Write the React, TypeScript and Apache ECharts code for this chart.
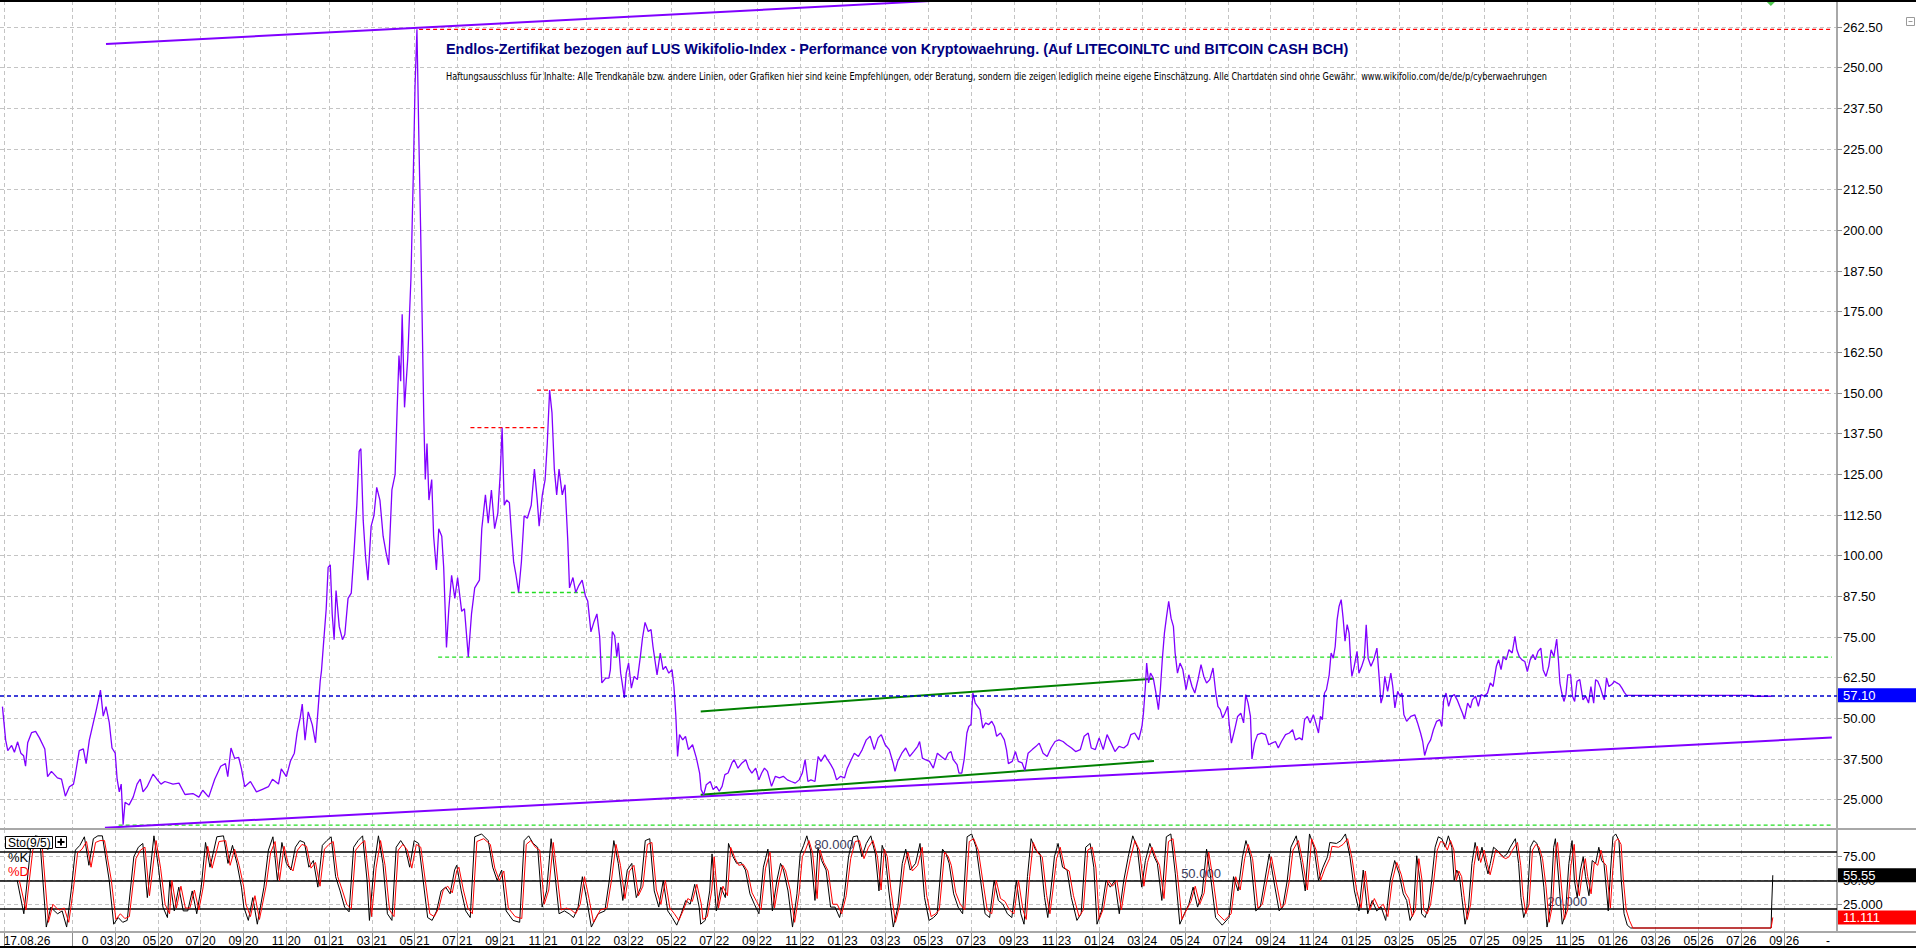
import React, { useEffect, useRef } from "react";
import * as echarts from "echarts";

const FONT = '"Liberation Sans", Arial, Helvetica, sans-serif';
const NARROW = '"Liberation Sans Narrow", "Arial Narrow", "DejaVu Sans Condensed", sans-serif';

// x values are months since January 2020 (0 = 01/20)
const X_MIN = -3.374;
const X_MAX = 82.47;

const TITLE = "Endlos-Zertifikat bezogen auf LUS Wikifolio-Index - Performance von Kryptowaehrung. (Auf LITECOINLTC und BITCOIN CASH BCH)";
const SUBTITLE = "Haftungsausschluss für Inhalte: Alle Trendkanäle bzw. andere Linien, oder Grafiken hier sind keine Empfehlungen, oder Beratung, sondern die zeigen lediglich meine eigene Einschätzung. Alle Chartdaten sind ohne Gewähr.  www.wikifolio.com/de/de/p/cyberwaehrungen";

// vertical grid lines (month positions)
const X_GRID = [-3.19, 0, 2, 4, 6, 8, 10, 12, 14, 16, 18, 20, 22, 24, 26, 28, 30, 32, 34, 36, 38, 40, 42, 44, 46, 48, 50, 52, 54, 56, 58, 60, 62, 64, 66, 68, 70, 72, 74, 76, 78, 80];
// x tick labels
const X_LABEL_POS = [-2.11, 0.6, 2, 4, 6, 8, 10, 12, 14, 16, 18, 20, 22, 24, 26, 28, 30, 32, 34, 36, 38, 40, 42, 44, 46, 48, 50, 52, 54, 56, 58, 60, 62, 64, 66, 68, 70, 72, 74, 76, 78, 80, 82.05];
const X_LABELS = ["17.08.26", "0", "03 20", "05 20", "07 20", "09 20", "11 20", "01 21", "03 21", "05 21", "07 21", "09 21", "11 21", "01 22", "03 22", "05 22", "07 22", "09 22", "11 22", "01 23", "03 23", "05 23", "07 23", "09 23", "11 23", "01 24", "03 24", "05 24", "07 24", "09 24", "11 24", "01 25", "03 25", "05 25", "07 25", "09 25", "11 25", "01 26", "03 26", "05 26", "07 26", "09 26", "-"];

// price axis ticks
const Y_TICKS = [25, 37.5, 50, 62.5, 75, 87.5, 100, 112.5, 125, 137.5, 150, 162.5, 175, 187.5, 200, 212.5, 225, 237.5, 250, 262.5];
const Y_LABELS = ["25.000", "37.500", "50.00", "62.50", "75.00", "87.50", "100.00", "112.50", "125.00", "137.50", "150.00", "162.50", "175.00", "187.50", "200.00", "212.50", "225.00", "237.50", "250.00", "262.50"];
// stochastic axis ticks
const S_TICKS = [25, 50, 75];
const S_LABELS = ["25.000", "50.00", "75.00"];

const LAST_PRICE = 57.1;
const LAST_K = 55.55;
const LAST_D = 11.111;
const STO_LEVELS = [80, 50, 20];
const STO_LEVEL_TEXT: [number, number, string][] = [[35.6, 80, "80.000"], [52.75, 50, "50.000"], [69.87, 20, "20.000"]];

// price series [month, value]
const PRICE: [number, number][] = [
  [-3.26,53.6],[-3.11,43.3],[-3.01,40.1],[-2.83,41.7],[-2.70,39.6],[-2.55,42.8],[-2.40,39.3],[-2.27,38.5],[-2.18,35.3],[-2.08,42.5],[-1.90,45.6],[-1.71,46.0],[-1.53,44.0],[-1.28,40.6],[-1.15,32.1],[-0.97,33.7],[-0.69,31.7],[-0.50,31.3],[-0.32,26.1],[-0.13,29.0],[0.06,29.8],[0.15,32.9],[0.33,40.1],[0.52,40.6],[0.65,36.1],[0.80,43.3],[0.99,48.8],[1.13,52.8],[1.32,58.7],[1.45,50.7],[1.58,53.6],[1.73,48.8],[1.86,40.9],[2.01,39.3],[2.10,31.3],[2.20,27.4],[2.29,29.8],[2.38,17.3],[2.47,24.2],[2.66,23.4],[2.85,25.8],[3.03,29.8],[3.18,31.3],[3.31,27.4],[3.50,29.0],[3.78,32.9],[3.96,31.3],[4.15,29.8],[4.33,30.6],[4.71,29.8],[4.99,30.1],[5.27,26.6],[5.64,26.9],[5.92,25.8],[6.10,27.9],[6.38,25.8],[6.66,31.3],[6.94,35.3],[7.16,36.1],[7.27,32.1],[7.42,40.9],[7.59,37.7],[7.78,38.0],[7.91,34.5],[8.06,29.0],[8.33,30.6],[8.61,27.4],[8.89,28.2],[9.17,29.0],[9.36,31.3],[9.64,29.8],[9.77,34.5],[10.01,32.1],[10.20,36.9],[10.38,39.3],[10.51,45.6],[10.66,50.4],[10.75,54.4],[10.88,43.3],[11.03,52.0],[11.22,48.0],[11.37,42.5],[11.50,53.6],[11.59,61.5],[11.65,64.7],[11.74,72.6],[11.87,83.7],[11.96,96.4],[12.06,97.2],[12.15,82.1],[12.24,74.2],[12.33,89.3],[12.48,78.2],[12.63,74.2],[12.74,75.8],[12.89,86.9],[13.04,88.5],[13.17,101.2],[13.30,115.5],[13.41,132.1],[13.49,132.9],[13.60,110.7],[13.71,99.6],[13.82,92.5],[13.97,109.1],[14.10,112.3],[14.23,121.0],[14.38,117.1],[14.53,106.0],[14.66,101.2],[14.79,97.2],[14.94,120.2],[15.09,125.0],[15.18,144.0],[15.27,161.5],[15.35,153.6],[15.42,174.2],[15.53,145.6],[15.68,160.7],[15.83,185.3],[15.94,217.1],[16.02,244.0],[16.11,261.8],[16.20,228.2],[16.28,201.2],[16.35,174.2],[16.43,142.5],[16.50,123.4],[16.58,134.5],[16.67,117.1],[16.80,123.4],[16.89,106.0],[17.02,95.6],[17.13,108.3],[17.27,106.0],[17.36,96.4],[17.49,71.8],[17.60,83.7],[17.73,94.0],[17.88,86.9],[18.01,93.3],[18.20,82.9],[18.33,83.7],[18.51,68.9],[18.66,82.1],[18.81,90.1],[19.03,92.5],[19.14,108.3],[19.31,118.7],[19.44,110.0],[19.59,120.2],[19.74,108.3],[19.89,113.1],[20.00,125.0],[20.09,139.3],[20.19,115.5],[20.30,117.1],[20.43,116.3],[20.52,107.5],[20.63,98.0],[20.74,94.0],[20.86,88.7],[20.99,98.0],[21.12,112.3],[21.27,111.5],[21.45,115.5],[21.60,126.6],[21.73,117.1],[21.82,109.1],[21.97,118.7],[22.10,123.4],[22.20,134.5],[22.31,150.9],[22.42,144.0],[22.53,126.6],[22.64,118.7],[22.75,126.6],[22.90,118.7],[23.03,121.8],[23.16,104.4],[23.24,90.1],[23.40,93.3],[23.53,88.7],[23.68,90.9],[23.83,92.5],[23.98,87.7],[24.09,86.1],[24.24,76.6],[24.39,79.8],[24.52,82.1],[24.65,75.0],
  [24.75,60.9],[24.93,62.4],[25.08,62.4],[25.15,65.0],[25.24,76.7],[25.35,75.4],[25.45,69.0],[25.52,73.2],[25.63,63.9],[25.70,60.9],[25.80,56.3],[25.89,63.9],[26.0,67.0],[26.13,59.3],[26.26,62.9],[26.41,61.9],[26.55,69.0],[26.65,74.7],[26.77,79.5],[26.92,76.7],[27.05,77.3],[27.14,72.1],[27.33,63.4],[27.48,70.1],[27.61,65.0],[27.73,66.0],[27.88,63.9],[28.03,65.0],[28.12,59.8],[28.21,50.6],[28.29,38.3],[28.38,45.0],[28.53,43.4],[28.66,44.5],[28.80,40.4],[28.99,41.9],[29.17,37.8],[29.32,33.2],[29.39,28.1],[29.51,26.5],[29.63,29.6],[29.82,30.6],[29.95,28.1],[30.10,29.1],[30.24,27.6],[30.37,29.1],[30.50,32.7],[30.65,33.2],[30.83,36.3],[30.93,37.3],[31.11,34.7],[31.30,36.3],[31.48,37.3],[31.61,34.7],[31.76,33.2],[31.94,34.7],[32.09,31.1],[32.22,33.2],[32.35,34.7],[32.49,33.7],[32.68,29.1],[32.86,32.2],[33.05,31.7],[33.23,32.2],[33.42,31.1],[33.60,30.6],[33.79,30.1],[33.97,31.1],[34.12,33.2],[34.25,37.3],[34.38,30.6],[34.52,31.1],[34.71,30.6],[34.86,38.3],[34.99,36.8],[35.17,38.8],[35.30,37.3],[35.45,35.8],[35.58,34.2],[35.72,31.1],[35.91,32.2],[36.09,31.7],[36.22,34.7],[36.37,36.8],[36.55,39.3],[36.74,38.3],[36.92,40.4],[37.11,43.4],[37.29,44.5],[37.48,40.4],[37.66,44.0],[37.81,45.0],[37.99,41.9],[38.18,40.4],[38.36,36.3],[38.45,33.7],[38.58,36.8],[38.77,39.3],[38.95,40.9],[39.14,38.3],[39.32,39.8],[39.51,41.4],[39.60,42.9],[39.73,37.8],[39.87,37.3],[40.06,36.8],[40.24,34.7],[40.43,39.3],[40.61,38.3],[40.80,37.3],[40.94,39.3],[41.07,39.8],[41.17,37.3],[41.35,35.8],[41.44,33.2],[41.57,33.2],[41.68,37.3],[41.81,45.5],[41.90,47.5],[42.0,48.1],[42.09,57.8],[42.20,54.7],[42.31,53.7],[42.42,52.7],[42.55,47.0],[42.68,48.6],[42.83,48.1],[42.97,49.1],[43.10,47.5],[43.20,44.5],[43.38,45.5],[43.56,43.4],[43.66,40.4],[43.75,36.1],[43.93,36.8],[44.08,39.8],[44.21,36.8],[44.39,36.3],[44.52,34.0],[44.67,39.3],[44.86,40.4],[45.04,41.4],[45.19,42.4],[45.37,39.3],[45.56,38.3],[45.74,40.9],[45.93,42.9],[46.11,43.4],[46.30,42.9],[46.48,41.9],[46.70,40.9],[46.89,39.8],[47.11,40.4],[47.29,44.5],[47.48,45.5],[47.62,40.9],[47.81,40.4],[47.99,44.0],[48.18,40.4],[48.36,45.0],[48.55,42.4],[48.73,39.8],[48.92,41.4],[49.14,40.9],[49.32,41.9],[49.47,45.0],[49.65,45.5],[49.84,43.4],[49.99,47.5],[50.06,51.6],[50.15,59.8],[50.21,67.0],[50.30,60.9],[50.39,63.9],[50.52,62.4],[50.63,58.3],[50.76,52.7],[50.85,58.8],[50.94,68.0],[51.04,76.2],[51.13,80.8],[51.24,86.0],[51.35,80.8],[51.46,78.3],[51.54,70.1],[51.65,63.9],[51.77,67.0],[51.90,65.0],[52.05,58.8],[52.18,63.4],[52.33,59.8],[52.46,57.8],[52.61,61.9],[52.75,66.5],[52.88,62.9],[53.01,60.9],[53.16,61.9],[53.31,65.5],
  [53.44,57.8],[53.54,53.7],[53.65,52.7],[53.76,50.1],[53.87,51.6],[54.0,53.7],[54.06,48.6],[54.17,42.4],[54.32,46.5],[54.46,50.6],[54.61,51.6],[54.74,48.6],[54.84,57.3],[54.95,54.7],[55.06,50.6],[55.13,37.5],[55.25,42.4],[55.39,45.0],[55.58,45.5],[55.77,45.0],[55.91,41.9],[56.06,42.4],[56.23,42.9],[56.36,40.9],[56.51,42.9],[56.70,45.0],[56.88,45.5],[57.03,46.5],[57.16,43.4],[57.35,44.0],[57.48,43.4],[57.59,49.6],[57.72,50.6],[57.85,48.6],[58.0,51.1],[58.11,48.6],[58.24,45.5],[58.33,50.6],[58.42,49.6],[58.52,57.8],[58.61,58.8],[58.74,63.4],[58.83,70.1],[58.93,68.5],[59.02,72.1],[59.11,80.3],[59.20,84.4],[59.30,86.5],[59.39,80.8],[59.48,73.7],[59.58,78.8],[59.67,76.2],[59.74,68.0],[59.80,62.9],[59.91,66.0],[60.04,70.6],[60.13,63.9],[60.26,66.0],[60.38,68.5],[60.47,78.8],[60.56,68.5],[60.69,66.0],[60.82,68.0],[60.97,71.6],[61.06,63.9],[61.16,54.7],[61.25,56.8],[61.34,62.9],[61.47,58.3],[61.62,63.9],[61.71,59.8],[61.81,53.2],[61.94,58.3],[62.05,56.8],[62.14,57.8],[62.23,51.1],[62.36,49.1],[62.55,50.6],[62.74,51.1],[62.87,48.6],[63.01,45.5],[63.11,42.9],[63.20,38.6],[63.35,41.9],[63.48,43.4],[63.61,46.5],[63.76,49.1],[63.91,49.6],[64.0,47.5],[64.09,55.7],[64.20,57.8],[64.32,53.7],[64.46,56.8],[64.59,57.3],[64.72,55.7],[64.87,53.2],[64.97,51.6],[65.06,49.8],[65.21,54.7],[65.34,53.2],[65.43,55.7],[65.58,56.8],[65.71,53.7],[65.84,57.3],[65.99,56.8],[66.14,57.8],[66.27,60.9],[66.40,59.8],[66.55,66.0],[66.66,68.0],[66.77,65.0],[66.88,69.0],[67.01,68.0],[67.14,71.1],[67.29,70.1],[67.42,75.2],[67.51,71.1],[67.62,69.0],[67.75,68.0],[67.88,67.5],[68.0,64.4],[68.13,68.0],[68.26,69.6],[68.37,68.0],[68.50,70.6],[68.63,71.6],[68.74,64.9],[68.87,62.9],[69.0,66.0],[69.11,71.1],[69.24,69.0],[69.37,74.4],[69.45,68.0],[69.52,60.9],[69.61,57.8],[69.71,55.2],[69.80,57.3],[69.89,63.4],[70.02,63.4],[70.11,56.8],[70.21,55.2],[70.32,61.4],[70.45,61.9],[70.60,55.7],[70.73,56.8],[70.86,54.7],[70.97,59.8],[71.10,54.7],[71.19,61.9],[71.29,61.4],[71.42,59.3],[71.53,56.8],[71.60,55.7],[71.70,62.4],[71.81,59.8],[71.94,60.4],[72.07,61.4],[72.18,60.9],[72.31,60.4],[72.42,59.3],[72.53,58.0],[72.64,57.1],[78.53,57.1],[78.55,56.8],[79.40,56.8]
];

// trend lines [month, value]
const UPPER_CHANNEL: [number, number][] = [[1.58, 257.3], [41.0, 270.8]];
const LOWER_CHANNEL: [number, number][] = [[1.53, 16.4], [82.23, 44.14]];
const GREEN_UPPER: [number, number][] = [[29.37, 52.15], [50.5, 62.2]];
const GREEN_LOWER: [number, number][] = [[29.37, 26.5], [50.55, 36.9]];
// horizontal dashed marks [fromMonth, toMonth, value]
const RED_LEVELS: [number, number, number][] = [[16.21, 82.23, 261.8], [21.72, 82.23, 150.9], [18.61, 22.13, 139.4]];
const GREEN_LEVELS: [number, number, number][] = [[20.5, 23.97, 88.7], [17.1, 82.23, 68.85], [2.17, 82.23, 17.2]];
const SIGNAL_MARK: [number, number][] = [[79.38, 270.5]];

// Stochastic %K [month, value]
const STO_K: [number, number][] = [
  [-2.57,50],[-2.26,15],[-1.94,85],[-1.73,97],[-1.52,96],[-1.21,1],[-1.0,22],[-0.79,17],[-0.68,15],[-0.47,18],[-0.26,1],[-0.05,39],[0.15,82],[0.36,87],[0.57,96],[0.78,66],[0.99,94],[1.2,97],[1.41,97],[1.73,50],[1.94,4],[2.15,11],[2.36,6],[2.57,8],[2.88,75],[3.09,85],[3.3,89],[3.51,32],[3.82,97],[4.03,64],[4.24,22],[4.45,11],[4.56,50],[4.77,18],[4.98,43],[5.19,18],[5.4,18],[5.61,39],[5.82,15],[6.03,43],[6.23,90],[6.44,64],[6.76,96],[7.07,97],[7.28,68],[7.49,87],[7.7,68],[7.91,43],[8.02,22],[8.23,8],[8.44,32],[8.65,4],[8.96,43],[9.17,82],[9.38,96],[9.59,50],[9.8,90],[10.01,68],[10.22,61],[10.43,85],[10.64,92],[10.85,90],[11.06,64],[11.27,71],[11.48,43],[11.69,87],[11.9,92],[12.1,96],[12.31,54],[12.52,39],[12.73,22],[12.94,17],[13.15,85],[13.36,92],[13.57,97],[13.78,50],[13.89,8],[14.1,64],[14.31,97],[14.52,68],[14.73,15],[14.94,8],[15.14,85],[15.35,92],[15.56,85],[15.77,64],[15.98,92],[16.19,89],[16.4,50],[16.61,11],[16.82,8],[17.03,18],[17.24,39],[17.45,43],[17.66,36],[17.87,61],[17.97,66],[18.18,39],[18.39,18],[18.6,11],[18.81,96],[19.13,99],[19.44,92],[19.65,64],[19.86,50],[20.07,61],[20.28,18],[20.6,8],[20.91,6],[21.12,92],[21.33,97],[21.54,89],[21.75,85],[21.96,22],[22.17,39],[22.38,94],[22.59,50],[22.75,15],[23.0,18],[23.22,15],[23.43,11],[23.64,22],[23.84,54],[24.05,29],[24.26,1],[24.58,15],[24.89,18],[25.1,50],[25.31,92],[25.52,68],[25.73,29],[25.94,61],[26.15,68],[26.36,32],[26.57,43],[26.78,92],[26.99,94],[27.2,39],[27.41,22],[27.62,50],[27.83,18],[28.04,11],[28.25,3],[28.46,15],[28.67,29],[28.88,25],[29.09,46],[29.3,22],
  [29.37,4],[29.58,8],[29.79,39],[29.9,78],[30.1,18],[30.31,43],[30.52,32],[30.67,89],[30.88,75],[31.05,68],[31.26,69],[31.46,61],[31.67,36],[31.88,25],[32.09,15],[32.3,64],[32.51,83],[32.72,18],[32.93,50],[33.1,68],[33.24,61],[33.45,39],[33.66,1],[33.87,36],[34.02,78],[34.18,87],[34.33,97],[34.5,82],[34.71,29],[34.85,85],[35.02,71],[35.23,61],[35.44,22],[35.65,22],[35.86,11],[36.07,32],[36.28,75],[36.49,96],[36.69,97],[36.9,75],[37.11,89],[37.32,97],[37.53,78],[37.7,39],[37.85,87],[37.99,78],[38.16,39],[38.37,1],[38.58,22],[38.79,68],[38.95,83],[39.16,61],[39.41,68],[39.62,89],[39.83,32],[40.04,8],[40.25,11],[40.42,15],[40.67,83],[40.84,78],[40.98,68],[41.19,36],[41.4,22],[41.61,15],[41.82,96],[42.03,99],[42.24,85],[42.45,50],[42.66,15],[42.87,11],[43.08,50],[43.28,29],[43.49,25],[43.7,15],[43.91,11],[44.12,50],[44.33,15],[44.48,4],[44.64,54],[44.81,94],[45.02,82],[45.23,78],[45.44,32],[45.59,11],[45.73,39],[45.9,75],[46.07,89],[46.28,64],[46.49,61],[46.69,32],[46.95,8],[47.15,15],[47.36,85],[47.57,89],[47.74,64],[47.89,4],[48.1,18],[48.31,50],[48.51,43],[48.72,50],[48.93,15],[49.14,50],[49.35,75],[49.56,97],[49.77,85],[49.98,43],[50.15,71],[50.36,89],[50.56,75],[50.71,68],[50.92,29],[51.13,96],[51.34,99],[51.55,57],[51.76,4],[51.97,15],[52.18,25],[52.38,43],[52.59,22],[52.8,36],[53.01,83],[53.22,50],[53.43,11],[53.74,3],[54.06,11],[54.27,54],[54.48,39],[54.69,75],[54.85,92],[55.06,75],[55.31,18],[55.52,22],[55.73,50],[55.94,78],[56.15,50],[56.4,18],[56.57,22],[56.78,50],[56.95,85],[57.2,97],[57.41,71],[57.62,39],[57.82,99],[58.03,85],[58.24,50],[58.45,64],[58.66,75],[58.77,90],[59.08,89],[59.29,92],[59.5,99],[59.71,75],[59.92,39],[60.13,18],[60.33,61],[60.54,15],[60.75,29],[60.96,18],[61.17,22],[61.38,8],[61.59,50],[61.8,71],[62.01,57],
  [62.2,36],[62.36,29],[62.52,8],[62.67,15],[62.83,76],[62.98,50],[63.06,15],[63.22,11],[63.38,22],[63.53,50],[63.69,85],[63.84,96],[64.0,94],[64.16,85],[64.31,97],[64.47,85],[64.58,50],[64.7,61],[64.83,54],[64.94,32],[65.09,4],[65.25,22],[65.41,68],[65.56,90],[65.72,71],[65.88,85],[66.03,69],[66.16,57],[66.27,68],[66.42,85],[66.58,82],[66.73,78],[66.89,75],[67.05,78],[67.2,85],[67.44,94],[67.59,68],[67.7,32],[67.83,11],[67.98,22],[68.14,85],[68.3,92],[68.45,89],[68.61,75],[68.77,43],[68.92,1],[69.08,22],[69.23,85],[69.31,94],[69.47,50],[69.63,4],[69.78,15],[69.94,68],[70.09,92],[70.2,50],[70.33,32],[70.48,61],[70.61,75],[70.72,54],[70.88,34],[71.03,71],[71.19,68],[71.34,85],[71.47,71],[71.58,68],[71.7,39],[71.78,18],[71.89,61],[72.0,96],[72.13,99],[72.28,92],[72.39,50],[72.52,15],[72.67,3],[72.83,0],[79.39,0],[79.42,25],[79.47,55.55]
];

// Stochastic %D [month, value]
const STO_D: [number, number][] = [
  [-2.47,50],[-2.16,19],[-1.84,82],[-1.63,92],[-1.42,91],[-1.11,6],[-0.9,25],[-0.69,20],[-0.58,19],[-0.37,21],[-0.16,6],[0.05,40],[0.25,79],[0.46,83],[0.67,91],[0.88,64],[1.09,90],[1.3,92],[1.51,92],[1.83,50],[2.04,9],[2.25,15],[2.46,10],[2.67,12],[2.98,73],[3.19,82],[3.4,85],[3.61,34],[3.92,92],[4.13,63],[4.34,25],[4.55,15],[4.66,50],[4.87,21],[5.08,44],[5.29,21],[5.5,21],[5.71,40],[5.92,19],[6.13,44],[6.33,86],[6.54,63],[6.86,91],[7.17,92],[7.38,66],[7.59,83],[7.8,66],[8.01,44],[8.12,25],[8.33,12],[8.54,34],[8.75,9],[9.06,44],[9.27,79],[9.48,91],[9.69,50],[9.9,86],[10.11,66],[10.32,60],[10.53,82],[10.74,88],[10.95,86],[11.16,63],[11.37,69],[11.58,44],[11.79,83],[12.0,88],[12.2,91],[12.41,54],[12.62,40],[12.83,25],[13.04,20],[13.25,82],[13.46,88],[13.67,92],[13.88,50],[13.99,12],[14.2,63],[14.41,92],[14.62,66],[14.83,19],[15.04,12],[15.24,82],[15.45,88],[15.66,82],[15.87,63],[16.08,88],[16.29,85],[16.5,50],[16.71,15],[16.92,12],[17.13,21],[17.34,40],[17.55,44],[17.76,37],[17.97,60],[18.07,64],[18.28,40],[18.49,21],[18.7,15],[18.91,91],[19.23,94],[19.54,88],[19.75,63],[19.96,50],[20.17,60],[20.38,21],[20.7,12],[21.01,10],[21.22,88],[21.43,92],[21.64,85],[21.85,82],[22.06,25],[22.27,40],[22.48,90],[22.69,50],[22.85,19],[23.1,21],[23.32,19],[23.53,15],[23.74,25],[23.94,54],[24.15,31],[24.36,6],[24.68,19],[24.99,21],[25.2,50],[25.41,88],[25.62,66],[25.83,31],[26.04,60],[26.25,66],[26.46,34],[26.67,44],[26.88,88],[27.09,90],[27.3,40],[27.51,25],[27.72,50],[27.93,21],[28.14,15],[28.35,8],[28.56,19],[28.77,31],[28.98,28],[29.19,46],[29.4,25],
  [29.47,9],[29.68,12],[29.89,40],[30.0,75],[30.2,21],[30.41,44],[30.62,34],[30.77,85],[30.98,73],[31.15,66],[31.36,67],[31.56,60],[31.77,37],[31.98,28],[32.19,19],[32.4,63],[32.61,80],[32.82,21],[33.03,50],[33.2,66],[33.34,60],[33.55,40],[33.76,6],[33.97,37],[34.12,75],[34.28,83],[34.43,92],[34.6,79],[34.81,31],[34.95,82],[35.12,69],[35.33,60],[35.54,25],[35.75,25],[35.96,15],[36.17,34],[36.38,73],[36.59,91],[36.79,92],[37.0,73],[37.21,85],[37.42,92],[37.63,75],[37.8,40],[37.95,83],[38.09,75],[38.26,40],[38.47,6],[38.68,25],[38.89,66],[39.05,80],[39.26,60],[39.51,66],[39.72,85],[39.93,34],[40.14,12],[40.35,15],[40.52,19],[40.77,80],[40.94,75],[41.08,66],[41.29,37],[41.5,25],[41.71,19],[41.92,91],[42.13,94],[42.34,82],[42.55,50],[42.76,19],[42.97,15],[43.18,50],[43.38,31],[43.59,28],[43.8,19],[44.01,15],[44.22,50],[44.43,19],[44.58,9],[44.74,54],[44.91,90],[45.12,79],[45.33,75],[45.54,34],[45.69,15],[45.83,40],[46.0,73],[46.17,85],[46.38,63],[46.59,60],[46.79,34],[47.05,12],[47.25,19],[47.46,82],[47.67,85],[47.84,63],[47.99,9],[48.2,21],[48.41,50],[48.61,44],[48.82,50],[49.03,19],[49.24,50],[49.45,73],[49.66,92],[49.87,82],[50.08,44],[50.25,69],[50.46,85],[50.66,73],[50.81,66],[51.02,31],[51.23,91],[51.44,94],[51.65,56],[51.86,9],[52.07,19],[52.28,28],[52.48,44],[52.69,25],[52.9,37],[53.11,80],[53.32,50],[53.53,15],[53.84,8],[54.16,15],[54.37,54],[54.58,40],[54.79,73],[54.95,88],[55.16,73],[55.41,21],[55.62,25],[55.83,50],[56.04,75],[56.25,50],[56.5,21],[56.67,25],[56.88,50],[57.05,82],[57.3,92],[57.51,69],[57.72,40],[57.92,94],[58.13,82],[58.34,50],[58.55,63],[58.76,73],[58.87,86],[59.18,85],[59.39,88],[59.6,94],[59.81,73],[60.02,40],[60.23,21],[60.43,60],[60.64,19],[60.85,31],[61.06,21],[61.27,25],[61.48,12],[61.69,50],[61.9,69],[62.11,56],
  [62.3,37],[62.46,31],[62.62,12],[62.77,19],[62.93,73],[63.08,50],[63.16,19],[63.32,15],[63.48,25],[63.63,50],[63.79,82],[63.94,91],[64.1,90],[64.26,82],[64.41,92],[64.57,82],[64.68,50],[64.8,60],[64.93,54],[65.04,34],[65.19,9],[65.35,25],[65.51,66],[65.66,86],[65.82,69],[65.98,82],[66.13,67],[66.26,56],[66.37,66],[66.52,82],[66.68,79],[66.83,75],[66.99,73],[67.15,75],[67.3,82],[67.54,90],[67.69,66],[67.8,34],[67.93,15],[68.08,25],[68.24,82],[68.4,88],[68.55,85],[68.71,73],[68.87,44],[69.02,6],[69.18,25],[69.33,82],[69.41,90],[69.57,50],[69.73,9],[69.88,19],[70.04,66],[70.19,88],[70.3,50],[70.43,34],[70.58,60],[70.71,73],[70.82,54],[70.98,36],[71.13,69],[71.29,66],[71.44,82],[71.57,69],[71.68,66],[71.8,40],[71.88,21],[71.99,60],[72.1,91],[72.23,94],[72.38,88],[72.49,50],[72.62,19],[72.77,8],[72.93,0],[79.39,0],[79.47,11.111]
];

function lookup(pos: number[], labels: string[]) {
  return (v: number) => {
    for (let i = 0; i < pos.length; i++) {
      if (Math.abs(pos[i] - v) < 0.001) return labels[i];
    }
    return "";
  };
}

const gridDash = { color: "#c4c4c4", type: [4, 3] as number[], width: 1 };
const INVISIBLE = "rgba(0,0,0,0)";

function boxLabel(text: string, bg: string, fg: string) {
  return {
    show: true,
    position: "end",
    formatter: text,
    distance: 1,
    backgroundColor: bg,
    color: fg,
    fontSize: 13,
    fontFamily: FONT,
    width: 70,
    lineHeight: 14,
    padding: [0, 4, 0, 5],
    align: "left",
  };
}

function segSeries(name: string, data: [number, number][], color: string, width: number, dashed: boolean) {
  return {
    name,
    type: "line",
    xAxisIndex: 0,
    yAxisIndex: 0,
    data,
    showSymbol: false,
    symbol: "none",
    silent: true,
    clip: true,
    lineStyle: { color, width, type: dashed ? [4, 3] : "solid" },
    z: 3,
  };
}

function buildOption() {
  const series: any[] = [];
  RED_LEVELS.forEach((l, i) => series.push(segSeries("red" + i, [[l[0], l[2]], [l[1], l[2]]], "#ff0000", 1.3, true)));
  GREEN_LEVELS.forEach((l, i) => series.push(segSeries("green" + i, [[l[0], l[2]], [l[1], l[2]]], "#22dd22", 1.3, true)));
  series.push(segSeries("upperChannel", UPPER_CHANNEL, "#8000ff", 2, false));
  series.push(segSeries("lowerChannel", LOWER_CHANNEL, "#8000ff", 2, false));
  series.push(segSeries("greenUpper", GREEN_UPPER, "#008000", 2, false));
  series.push(segSeries("greenLower", GREEN_LOWER, "#008000", 2, false));
  series.push({
    name: "price",
    type: "line",
    xAxisIndex: 0,
    yAxisIndex: 0,
    data: PRICE,
    showSymbol: false,
    symbol: "none",
    lineStyle: { color: "#8000ff", width: 1.3 },
    z: 4,
    markLine: {
      silent: true,
      symbol: "none",
      animation: false,
      lineStyle: { color: "#0000cc", type: [4, 3], width: 1.5 },
      label: boxLabel("57.10", "#0000ff", "#ffffff"),
      data: [{ yAxis: LAST_PRICE }],
    },
  });
  series.push({
    name: "signal",
    type: "scatter",
    xAxisIndex: 0,
    yAxisIndex: 0,
    data: SIGNAL_MARK,
    symbol: "diamond",
    symbolSize: 10,
    clip: false,
    itemStyle: { color: "#22bb22" },
    z: 5,
  });
  series.push({
    name: "%K",
    type: "line",
    xAxisIndex: 1,
    yAxisIndex: 1,
    data: STO_K,
    showSymbol: false,
    symbol: "none",
    lineStyle: { color: "#000000", width: 1 },
    z: 4,
    markLine: {
      silent: true,
      symbol: "none",
      animation: false,
      lineStyle: { color: "#000000", type: "solid", width: 1.5 },
      label: { show: false },
      data: STO_LEVELS.map((v) => ({ yAxis: v })),
    },
    markPoint: {
      silent: true,
      symbol: "circle",
      symbolSize: 0,
      animation: false,
      label: { show: true, position: "top", distance: 1, color: "#3a3a5a", fontSize: 13, fontFamily: FONT },
      data: STO_LEVEL_TEXT.map((t) => ({ coord: [t[0], t[1]], label: { formatter: t[2] } })),
    },
  });
  series.push({
    name: "%D",
    type: "line",
    xAxisIndex: 1,
    yAxisIndex: 1,
    data: STO_D,
    showSymbol: false,
    symbol: "none",
    lineStyle: { color: "#ff0000", width: 1 },
    z: 5,
  });
  // current-value boxes on the stochastic axis
  series.push({
    name: "lastK",
    type: "line",
    xAxisIndex: 1,
    yAxisIndex: 1,
    data: [],
    z: 6,
    markLine: {
      silent: true,
      symbol: "none",
      animation: false,
      lineStyle: { color: INVISIBLE, width: 0 },
      data: [
        { yAxis: LAST_K, label: boxLabel("55.55", "#000000", "#ffffff") },
        { yAxis: LAST_D, label: boxLabel("11.111", "#ff0000", "#ffffff") },
      ],
    },
  });

  const axisLabelStyle = { color: "#000000", fontSize: 13, fontFamily: FONT };

  return {
    animation: false,
    backgroundColor: "#ffffff",
    grid: [
      { left: 0, top: 1, width: 1837, height: 828, show: false, containLabel: false, outerBoundsMode: "none" },
      { left: 0, top: 829, width: 1837, height: 103, show: false, containLabel: false, outerBoundsMode: "none" },
    ],
    xAxis: [
      {
        type: "value", gridIndex: 0, min: X_MIN, max: X_MAX,
        axisLine: { show: false, onZero: false },
        axisTick: { show: false, customValues: X_GRID },
        axisLabel: { show: false, customValues: X_GRID },
        splitLine: { show: true, lineStyle: gridDash },
      },
      {
        type: "value", gridIndex: 1, min: X_MIN, max: X_MAX,
        axisLine: { show: false, onZero: false },
        axisTick: { show: true, inside: false, length: 15, customValues: X_GRID, lineStyle: { color: "#8c8c8c", width: 1 } },
        axisLabel: { show: true, customValues: X_LABEL_POS, formatter: lookup(X_LABEL_POS, X_LABELS), margin: 3, ...axisLabelStyle, fontSize: 12 },
        splitLine: { show: true, lineStyle: gridDash },
      },
    ],
    yAxis: [
      {
        type: "value", gridIndex: 0, position: "right", min: 16.0, max: 270.5,
        axisLine: { show: true, onZero: false, lineStyle: { color: "#a8a8a8", width: 2 } },
        axisTick: { show: true, inside: false, length: 5, customValues: Y_TICKS, lineStyle: { color: "#8c8c8c" } },
        axisLabel: { show: true, customValues: Y_TICKS, formatter: lookup(Y_TICKS, Y_LABELS), margin: 6, ...axisLabelStyle },
        splitLine: { show: true, lineStyle: gridDash },
      },
      {
        type: "value", gridIndex: 1, position: "right", min: -4.2, max: 104.2,
        axisLine: { show: true, onZero: false, lineStyle: { color: "#a8a8a8", width: 2 } },
        axisTick: { show: true, inside: false, length: 5, customValues: S_TICKS, lineStyle: { color: "#8c8c8c" } },
        axisLabel: { show: true, customValues: S_TICKS, formatter: lookup(S_TICKS, S_LABELS), margin: 6, ...axisLabelStyle },
        splitLine: { show: true, lineStyle: gridDash },
      },
    ],
    series,
    graphic: [
      { type: "rect", shape: { x: 0, y: 0, width: 1916, height: 2 }, style: { fill: "#000000" }, z: 100, silent: true },
      { type: "rect", shape: { x: 0, y: 946, width: 1916, height: 2 }, style: { fill: "#000000" }, z: 100, silent: true },
      { type: "rect", shape: { x: 0, y: 828, width: 1916, height: 2 }, style: { fill: "#a8a8a8" }, z: 100, silent: true },
      { type: "rect", shape: { x: 0, y: 931, width: 1916, height: 2 }, style: { fill: "#a8a8a8" }, z: 100, silent: true },
      {
        type: "text", x: 446, y: 49, z: 100, silent: true,
        style: { text: TITLE, fill: "#000080", font: `bold 14.4px ${FONT}`, textVerticalAlign: "middle", verticalAlign: "middle" },
      },
      {
        type: "text", x: 446, y: 76, scaleX: 0.828, z: 100, silent: true,
        style: { text: SUBTITLE, fill: "#000000", font: `11px ${NARROW}`, textVerticalAlign: "middle", verticalAlign: "middle" },
      },
      // indicator header
      { type: "rect", shape: { x: 5.5, y: 836.5, width: 47, height: 12 }, style: { fill: "#ffffff", stroke: "#000000", lineWidth: 1 }, z: 100, silent: true },
      { type: "text", x: 8, y: 843, z: 101, silent: true, style: { text: "Sto(9/5)", fill: "#000000", font: `12px ${FONT}`, verticalAlign: "middle", textVerticalAlign: "middle" } },
      { type: "rect", shape: { x: 55.5, y: 836.5, width: 11, height: 11 }, style: { fill: "#ffffff", stroke: "#000000", lineWidth: 1 }, z: 100, silent: true },
      { type: "line", shape: { x1: 57.5, y1: 842, x2: 64.5, y2: 842 }, style: { stroke: "#000000", lineWidth: 2 }, z: 101, silent: true },
      { type: "line", shape: { x1: 61, y1: 838.5, x2: 61, y2: 845.5 }, style: { stroke: "#000000", lineWidth: 2 }, z: 101, silent: true },
      { type: "text", x: 8, y: 857, z: 101, silent: true, style: { text: "%K", fill: "#000000", font: `13px ${FONT}`, verticalAlign: "middle", textVerticalAlign: "middle" } },
      { type: "text", x: 8, y: 871, z: 101, silent: true, style: { text: "%D", fill: "#ff0000", font: `13px ${FONT}`, verticalAlign: "middle", textVerticalAlign: "middle" } },
      // collapse icon top-right
      { type: "rect", shape: { x: 1906.5, y: 17.5, width: 8, height: 8 }, style: { fill: "#ffffff", stroke: "#9a9a9a", lineWidth: 1 }, z: 100, silent: true },
      { type: "line", shape: { x1: 1908.5, y1: 21.5, x2: 1912.5, y2: 21.5 }, style: { stroke: "#9a9a9a", lineWidth: 1 }, z: 101, silent: true },
    ],
  };
}

export default function App() {
  const ref = useRef<HTMLDivElement>(null);
  useEffect(() => {
    document.body.style.margin = "0";
    document.body.style.overflow = "hidden";
    if (!ref.current) return;
    const chart = echarts.init(ref.current, null, { renderer: "svg" });
    chart.setOption(buildOption() as any);
    return () => chart.dispose();
  }, []);
  return <div ref={ref} style={{ position: "absolute", left: 0, top: 0, width: 1916, height: 948, background: "#fff" }} />;
}
